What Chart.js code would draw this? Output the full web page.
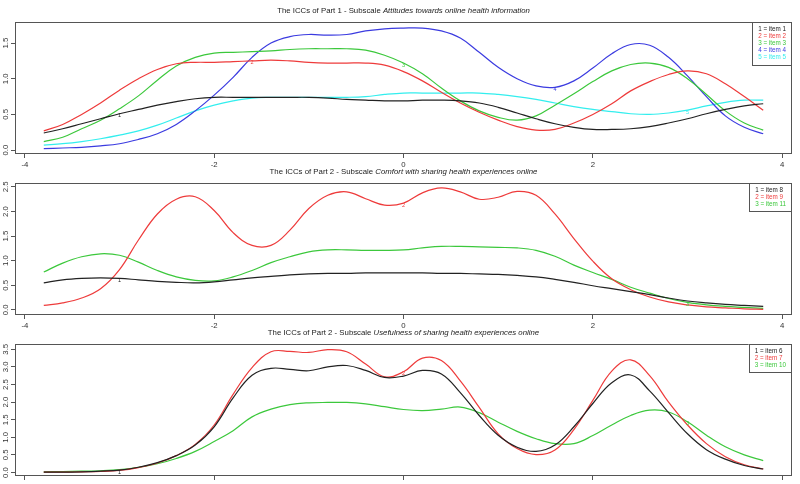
<!DOCTYPE html>
<html>
<head>
<meta charset="utf-8">
<script src="https://cdn.jsdelivr.net/npm/chart.js@4.4.1/dist/chart.umd.min.js"></script>
<style>
  html, body { margin: 0; padding: 0; background: #fff; overflow: hidden; }
  #wrap { position: relative; width: 800px; height: 484px; overflow: hidden; }
  canvas { position: absolute; left: 0; }
</style>
</head>
<body>
<div id="wrap">
  <canvas id="c1" width="800" height="175" style="top:0px"></canvas>
  <canvas id="c2" width="800" height="175" style="top:161px"></canvas>
  <canvas id="c3" width="800" height="175" style="top:322px"></canvas>
</div>
<script>
// ability values (x axis)
const theta = [-3.8, -3.6, -3.4, -3.2, -3.0, -2.8, -2.6, -2.4, -2.2, -2.0,
  -1.8, -1.6, -1.4, -1.2, -1.0, -0.8, -0.6, -0.4, -0.2, 0.0,
  0.2, 0.4, 0.6, 0.8, 1.0, 1.2, 1.4, 1.6, 1.8, 2.0,
  2.2, 2.4, 2.6, 2.8, 3.0, 3.2, 3.4, 3.6, 3.8];
const xTicks = [-4, -2, 0, 2, 4];

// Part 1 - Attitudes towards online health information
const p1Item1 = [0.24, 0.30, 0.37, 0.44, 0.51, 0.57, 0.63, 0.68, 0.72, 0.74,
  0.74, 0.74, 0.74, 0.74, 0.74, 0.73, 0.71, 0.70, 0.69, 0.69,
  0.70, 0.70, 0.69, 0.66, 0.60, 0.52, 0.44, 0.37, 0.32, 0.29,
  0.29, 0.30, 0.33, 0.38, 0.44, 0.51, 0.57, 0.62, 0.65];
const p1Item2 = [0.27, 0.36, 0.50, 0.66, 0.84, 1.00, 1.13, 1.21, 1.23, 1.23,
  1.24, 1.25, 1.26, 1.25, 1.23, 1.22, 1.22, 1.22, 1.19, 1.10,
  0.97, 0.81, 0.66, 0.53, 0.42, 0.33, 0.28, 0.29, 0.38, 0.50,
  0.65, 0.83, 0.96, 1.06, 1.11, 1.07, 0.93, 0.75, 0.56];
const p1Item3 = [0.12, 0.18, 0.30, 0.42, 0.58, 0.76, 0.98, 1.18, 1.30, 1.36,
  1.37, 1.38, 1.39, 1.41, 1.42, 1.42, 1.42, 1.40, 1.33, 1.22,
  1.07, 0.87, 0.69, 0.55, 0.46, 0.42, 0.48, 0.63, 0.79, 0.96,
  1.11, 1.20, 1.22, 1.16, 1.00, 0.78, 0.55, 0.38, 0.28];
const p1Item4 = [0.02, 0.03, 0.04, 0.06, 0.09, 0.15, 0.23, 0.36, 0.55, 0.77,
  1.02, 1.30, 1.50, 1.59, 1.62, 1.61, 1.62, 1.67, 1.70, 1.71,
  1.71, 1.67, 1.57, 1.37, 1.16, 1.00, 0.90, 0.88, 0.97, 1.15,
  1.35, 1.48, 1.47, 1.30, 1.04, 0.75, 0.48, 0.32, 0.23];
const p1Item5 = [0.07, 0.09, 0.12, 0.16, 0.21, 0.27, 0.35, 0.45, 0.55, 0.63,
  0.69, 0.73, 0.74, 0.74, 0.74, 0.74, 0.74, 0.75, 0.78, 0.80,
  0.80, 0.80, 0.80, 0.80, 0.78, 0.75, 0.71, 0.66, 0.61, 0.57,
  0.54, 0.51, 0.50, 0.52, 0.56, 0.62, 0.67, 0.70, 0.70];

// Part 2 - Comfort with sharing health experiences online
const p2Item8 = [0.55, 0.61, 0.64, 0.65, 0.64, 0.61, 0.58, 0.56, 0.55, 0.57,
  0.61, 0.65, 0.68, 0.71, 0.73, 0.74, 0.74, 0.75, 0.75, 0.75,
  0.75, 0.74, 0.74, 0.73, 0.72, 0.70, 0.67, 0.62, 0.56, 0.49,
  0.43, 0.37, 0.31, 0.24, 0.18, 0.14, 0.11, 0.09, 0.07];
const p2Item9 = [0.09, 0.14, 0.24, 0.43, 0.82, 1.42, 1.95, 2.25, 2.30, 2.02,
  1.57, 1.31, 1.31, 1.62, 2.06, 2.33, 2.40, 2.26, 2.13, 2.17,
  2.38, 2.48, 2.40, 2.25, 2.29, 2.41, 2.33, 1.95, 1.45, 0.99,
  0.63, 0.41, 0.26, 0.16, 0.10, 0.06, 0.04, 0.02, 0.01];
const p2Item11 = [0.77, 0.95, 1.08, 1.14, 1.11, 0.97, 0.80, 0.67, 0.60, 0.59,
  0.67, 0.80, 0.96, 1.08, 1.18, 1.22, 1.22, 1.21, 1.21, 1.22,
  1.26, 1.29, 1.29, 1.28, 1.27, 1.26, 1.21, 1.09, 0.91, 0.76,
  0.62, 0.46, 0.34, 0.23, 0.15, 0.10, 0.07, 0.05, 0.03];

// Part 2 - Usefulness of sharing health experiences online
const p3Item6 = [0.01, 0.01, 0.02, 0.04, 0.07, 0.15, 0.28, 0.48, 0.78, 1.30,
  2.12, 2.76, 2.96, 2.93, 2.89, 3.00, 3.04, 2.90, 2.70, 2.74,
  2.90, 2.80, 2.27, 1.62, 1.06, 0.72, 0.60, 0.78, 1.30, 1.96,
  2.55, 2.77, 2.32, 1.70, 1.10, 0.65, 0.38, 0.20, 0.10];
const p3Item7 = [0.01, 0.01, 0.02, 0.03, 0.06, 0.14, 0.27, 0.48, 0.80, 1.35,
  2.22, 2.98, 3.43, 3.44, 3.41, 3.49, 3.43, 3.08, 2.72, 2.86,
  3.25, 3.18, 2.60, 1.85, 1.10, 0.68, 0.51, 0.64, 1.22, 2.05,
  2.88, 3.20, 2.75, 2.00, 1.35, 0.82, 0.45, 0.22, 0.10];
const p3Item10 = [0.02, 0.03, 0.04, 0.05, 0.08, 0.15, 0.25, 0.40, 0.60, 0.88,
  1.19, 1.58, 1.80, 1.93, 1.98, 1.99, 1.99, 1.95, 1.87, 1.79,
  1.76, 1.80, 1.86, 1.70, 1.43, 1.17, 0.96, 0.82, 0.82, 1.05,
  1.35, 1.62, 1.77, 1.72, 1.44, 1.06, 0.73, 0.50, 0.34];

const colors = ['#222222', '#ee3b3b', '#3cc83c', '#3b3be0', '#33eeee'];
const FONT = '"Liberation Sans", Arial, Helvetica, sans-serif';

const panelDecor = {
  id: 'panelDecor',
  afterDraw(chart, args, opts) {
    const { ctx, chartArea: a, scales: { x, y } } = chart;
    ctx.save();
    // frame
    ctx.strokeStyle = '#555';
    ctx.lineWidth = 1;
    ctx.strokeRect(Math.round(a.left) + 0.5, Math.round(a.top) + 0.5,
      Math.round(a.right - a.left) - 1, Math.round(a.bottom - a.top));

    // y tick labels, read bottom to top like R
    ctx.fillStyle = '#333';
    ctx.font = '7.8px ' + FONT;
    ctx.textAlign = 'center';
    ctx.textBaseline = 'middle';
    y.ticks.forEach(t => {
      const py = y.getPixelForValue(t.value);
      ctx.save();
      ctx.translate(6, py);
      ctx.rotate(-Math.PI / 2);
      ctx.fillText(t.value.toFixed(1), 0, 0);
      ctx.restore();
    });

    // title: plain part + italic part
    const cx = (a.left + a.right) / 2;
    ctx.font = '7.8px ' + FONT;
    const w1 = ctx.measureText(opts.title[0]).width;
    ctx.font = 'italic 7.8px ' + FONT;
    const w2 = ctx.measureText(opts.title[1]).width;
    const x0 = cx - (w1 + w2) / 2;
    ctx.textAlign = 'left';
    ctx.fillStyle = '#222';
    ctx.font = '7.8px ' + FONT;
    ctx.fillText(opts.title[0], x0, 11);
    ctx.font = 'italic 7.8px ' + FONT;
    ctx.fillText(opts.title[1], x0 + w1, 11);

    // curve numbers
    ctx.textAlign = 'center';
    ctx.font = '5.5px ' + FONT;
    chart.data.datasets.forEach((ds, i) => {
      const p = ds.data[opts.labelIdx[i]];
      ctx.fillStyle = ds.borderColor;
      ctx.fillText(String(i + 1), x.getPixelForValue(p.x), y.getPixelForValue(p.y) + 2);
    });

    // legend box top right
    const names = opts.legend;
    ctx.font = '6.3px ' + FONT;
    const tw = Math.max(...names.map(n => ctx.measureText(n).width));
    const bw = tw + 12, lh = 7.2, bh = names.length * lh + 6.6;
    const bx = a.right - bw, by = a.top;
    ctx.fillStyle = '#fff';
    ctx.fillRect(bx, by, bw, bh);
    ctx.strokeStyle = '#555';
    ctx.strokeRect(Math.round(bx) + 0.5, Math.round(by) + 0.5, Math.round(bw) - 1, Math.round(bh));
    ctx.textAlign = 'left';
    names.forEach((n, i) => {
      ctx.fillStyle = chart.data.datasets[i].borderColor;
      ctx.fillText(n, bx + 6, by + 6.8 + i * lh);
    });
    ctx.restore();
  }
};

function makePanel(id, seriesList, names, yMin, yMax, yTicks, title, labelIdx) {
  const datasets = seriesList.map((vals, i) => ({
    label: names[i],
    data: theta.map((t, k) => ({ x: t, y: vals[k] })),
    borderColor: colors[i],
    borderWidth: 1.2,
    pointRadius: 0,
    fill: false,
    tension: 0.4
  }));
  return new Chart(document.getElementById(id), {
    type: 'line',
    data: { datasets },
    plugins: [panelDecor],
    options: {
      responsive: false,
      animation: false,
      layout: { padding: { top: 22, right: 8, left: 0, bottom: 0 } },
      plugins: {
        legend: { display: false },
        tooltip: { enabled: false },
        panelDecor: { title, labelIdx, legend: names }
      },
      scales: {
        x: {
          type: 'linear',
          position: 'bottom',
          min: -4.104,
          max: 4.104,
          afterBuildTicks: s => { s.ticks = xTicks.map(v => ({ value: v })); },
          afterFit: s => { s.height = 22; },
          border: { display: false },
          grid: { drawOnChartArea: false, drawTicks: true, tickLength: 5, color: '#555' },
          ticks: {
            color: '#333',
            font: { size: 7.8, family: FONT },
            padding: 2,
            maxRotation: 0,
            autoSkip: false,
            callback: v => String(v)
          }
        },
        y: {
          type: 'linear',
          min: yMin,
          max: yMax,
          afterBuildTicks: s => { s.ticks = yTicks.map(v => ({ value: v })); },
          afterFit: s => { s.width = 15; },
          border: { display: false },
          grid: { drawOnChartArea: false, drawTicks: true, tickLength: 4, color: '#555' },
          ticks: { display: false }
        }
      }
    }
  });
}

makePanel('c1', [p1Item1, p1Item2, p1Item3, p1Item4, p1Item5],
  ['1 = item 1', '2 = item 2', '3 = item 3', '4 = item 4', '5 = item 5'],
  -0.04, 1.795, [0, 0.5, 1, 1.5],
  ['The ICCs of Part 1 - Subscale ', 'Attitudes towards online health information'],
  [4, 11, 19, 27, 34]);

makePanel('c2', [p2Item8, p2Item9, p2Item11],
  ['1 = item 8', '2 = item 9', '3 = item 11'],
  -0.085, 2.58, [0, 0.5, 1, 1.5, 2, 2.5],
  ['The ICCs of Part 2 - Subscale ', 'Comfort with sharing health experiences online'],
  [4, 19, 34]);

makePanel('c3', [p3Item6, p3Item7, p3Item10],
  ['1 = item 6', '2 = item 7', '3 = item 10'],
  -0.07, 3.65, [0, 0.5, 1, 1.5, 2, 2.5, 3, 3.5],
  ['The ICCs of Part 2 - Subscale ', 'Usefulness of sharing health experiences online'],
  [4, 19, 34]);
</script>
</body>
</html>
